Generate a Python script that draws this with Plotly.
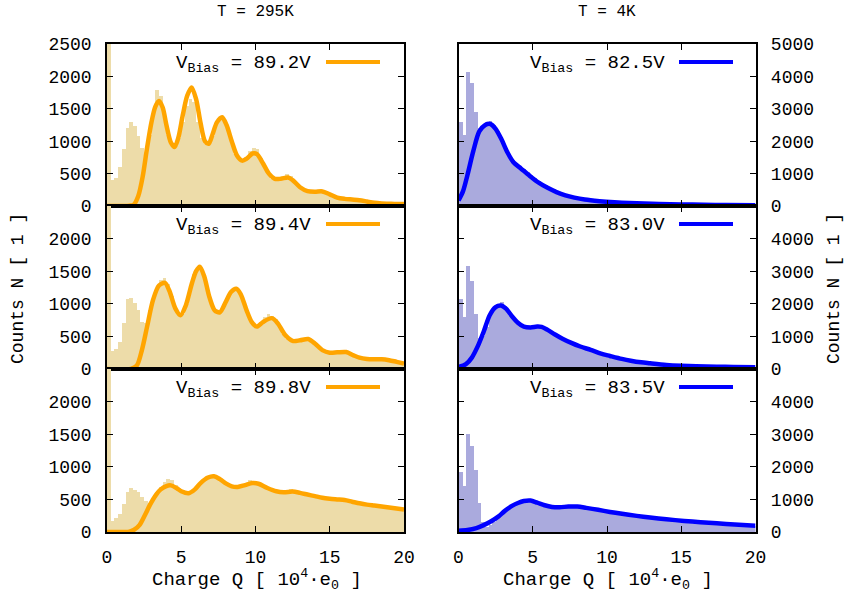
import plotly.graph_objects as go

W, H = 844, 592

# ---------------- data ----------------
bin_width = 0.25
q_bins = [bin_width / 2 + bin_width * i for i in range(80)]  # bin centres, Charge Q [1e4 e0]

# T = 295K histograms
n_hist_892 = [3000, 400, 430, 600, 880, 1200, 1290, 1240, 1080, 900,
              800, 1100, 1450, 1790, 1700, 1400, 1100, 930, 920, 1050,
              1300, 1550, 1650, 1600, 1300, 1050, 950, 950, 1080, 1280,
              1350, 1340, 1200, 980, 800, 720, 700, 760, 850, 900,
              880, 740, 600, 480, 420, 420, 440, 470, 490, 470,
              400, 320, 270, 240, 230, 230, 225, 220, 210, 180,
              150, 130, 120, 110, 105, 100, 95, 90, 80, 70,
              62, 55, 50, 45, 42, 40, 36, 34, 32, 30]
n_hist_894 = [3000, 270, 300, 420, 700, 1080, 1090, 1020, 900, 720,
              700, 900, 1100, 1250, 1360, 1390, 1300, 1120, 920, 830,
              850, 1000, 1250, 1450, 1540, 1500, 1300, 1100, 950, 870,
              880, 980, 1120, 1200, 1230, 1180, 1050, 900, 760, 680,
              670, 720, 800, 840, 820, 760, 650, 540, 460, 430,
              430, 450, 470, 470, 460, 420, 360, 300, 260, 250,
              250, 260, 270, 265, 255, 230, 200, 180, 165, 155,
              150, 150, 150, 150, 145, 135, 120, 110, 100, 90]
n_hist_898 = [3000, 170, 210, 280, 430, 620, 670, 650, 610, 540,
              470, 440, 520, 610, 690, 760, 810, 790, 720, 670,
              640, 610, 600, 640, 700, 760, 810, 840, 850, 840,
              800, 750, 710, 690, 690, 700, 720, 750, 790, 770,
              740, 710, 680, 660, 640, 620, 615, 610, 640, 660,
              650, 620, 600, 580, 560, 550, 540, 530, 520, 510,
              520, 520, 500, 490, 480, 460, 450, 440, 430, 420,
              410, 400, 395, 390, 385, 375, 370, 360, 350, 340]

# T = 4K histograms
n_hist_825 = [2600, 2200, 4150, 3800, 2900, 2400, 2450, 2580, 2620, 2500,
              2300, 2050, 1850, 1600, 1420, 1300, 1220, 1130, 1040, 950,
              870, 780, 700, 640, 570, 510, 460, 410, 370, 330,
              300, 270, 245, 225, 205, 190, 175, 162, 150, 140,
              130, 122, 115, 108, 100, 95, 90, 85, 80, 76,
              72, 68, 65, 62, 59, 56, 54, 52, 50, 48,
              46, 44, 42, 40, 38, 37, 36, 35, 34, 33,
              32, 31, 30, 29, 28, 27, 26, 25, 24, 23]
n_hist_830 = [2150, 1600, 3150, 2700, 1700, 950, 1000, 1300, 1650, 1880,
              2000, 2050, 1920, 1750, 1600, 1450, 1350, 1300, 1290, 1300,
              1310, 1300, 1270, 1220, 1150, 1080, 1020, 960, 900, 850,
              800, 760, 720, 680, 640, 600, 560, 520, 480, 445,
              410, 380, 350, 320, 295, 270, 250, 230, 210, 195,
              180, 165, 152, 140, 130, 120, 112, 105, 100, 95,
              90, 86, 82, 78, 75, 72, 70, 68, 66, 64,
              62, 60, 58, 56, 55, 54, 53, 52, 51, 50]
n_hist_835 = [1850, 1400, 3000, 2650, 1900, 900, 300, 150, 200, 300,
              420, 560, 680, 780, 850, 900, 940, 960, 970, 960,
              930, 880, 830, 800, 780, 760, 760, 770, 780, 790,
              790, 780, 770, 750, 730, 710, 690, 670, 650, 630,
              610, 590, 575, 560, 545, 530, 515, 500, 485, 470,
              455, 440, 430, 418, 406, 395, 383, 372, 360, 350,
              340, 330, 320, 310, 302, 294, 286, 278, 270, 262,
              255, 248, 241, 234, 227, 220, 214, 208, 202, 196]

# fit curves (charge, counts)
fit_q_892 = [0, 1.5, 1.8, 2.1, 2.4, 2.7, 3.0, 3.25, 3.5, 3.75, 4.0, 4.3, 4.55, 4.8, 5.1, 5.4, 5.7, 6.0,
             6.3, 6.6, 6.85, 7.1, 7.4, 7.75, 8.05, 8.4, 8.75, 9.1, 9.4, 9.8, 10.1, 10.5, 10.9, 11.3,
             11.7, 12.2, 12.5, 13.0, 13.5, 14.0, 14.5, 15.0, 15.5, 16.0, 16.5, 17.0, 17.5, 18.0,
             18.5, 19.0, 19.5, 20.0]
fit_n_892 = [0, 5, 20, 150, 450, 900, 1300, 1530, 1620, 1520, 1250, 980, 910, 1050, 1400, 1700, 1830, 1650,
             1280, 1000, 960, 1100, 1290, 1370, 1250, 1000, 780, 700, 730, 810, 800, 660, 500, 420,
             420, 440, 400, 290, 230, 220, 225, 180, 130, 110, 100, 90, 70, 50,
             40, 35, 30, 30]
fit_q_894 = [0, 1.6, 2.0, 2.35, 2.7, 3.1, 3.5, 3.9, 4.2, 4.6, 4.95, 5.3, 5.7, 6.0, 6.25, 6.55, 6.9, 7.25,
             7.6, 8.0, 8.35, 8.7, 9.0, 9.4, 9.75, 10.1, 10.5, 11.1, 11.5, 12.0, 12.5, 13.0, 13.55,
             14.0, 14.5, 15.0, 15.5, 16.1, 16.6, 17.0, 17.5, 18.0, 18.5, 19.0, 19.5, 20.0]
fit_n_894 = [0, 2, 50, 290, 650, 1060, 1280, 1320, 1200, 930, 825, 970, 1300, 1500, 1570, 1420, 1100, 900,
             870, 1030, 1180, 1230, 1150, 900, 720, 650, 720, 780, 700, 520, 430, 440, 460,
             390, 290, 250, 255, 260, 210, 175, 155, 150, 150, 135, 110, 85]
fit_q_898 = [0, 1.5, 1.8, 2.2, 2.6, 2.9, 3.3, 3.6, 4.0, 4.3, 4.7, 5.0, 5.5, 5.9, 6.3, 6.8, 7.2, 7.6,
             8.0, 8.4, 8.8, 9.3, 9.8, 10.2, 10.8, 11.4, 11.9, 12.5, 13.0, 13.5, 14.0, 14.5, 15.0,
             15.5, 16.0, 16.5, 17.0, 17.5, 18.0, 18.5, 19.0, 19.5, 20.0]
fit_n_898 = [0, 5, 30, 110, 280, 420, 570, 650, 705, 715, 670, 625, 595, 650, 750, 835, 855, 810,
             745, 700, 690, 720, 750, 740, 675, 625, 610, 620, 600, 575, 550, 525, 510,
             500, 490, 465, 440, 420, 405, 390, 375, 360, 345]
fit_q_825 = [0, 0.3, 0.6, 1.0, 1.4, 1.8, 2.15, 2.5, 2.9, 3.3, 3.7, 4.2, 4.8, 5.4, 6.0, 6.6, 7.2, 7.8,
             8.5, 9.5, 10.5, 11.5, 12.5, 13.5, 15.0, 16.5, 18.0, 20.0]
fit_n_825 = [170, 450, 950, 1700, 2300, 2500, 2530, 2380, 2050, 1650, 1350, 1160, 930, 720, 560, 430, 330, 260,
             200, 150, 115, 90, 75, 62, 50, 38, 30, 22]
fit_q_830 = [0, 0.5, 0.9, 1.3, 1.7, 2.1, 2.5, 2.85, 3.2, 3.6, 4.0, 4.4, 4.85, 5.3, 5.6, 6.0, 6.5, 7.0,
             7.6, 8.2, 8.9, 9.6, 10.2, 11.0, 11.6, 12.3, 12.9, 14.0, 15.0, 16.0, 17.4, 18.5, 20.0]
fit_n_830 = [60, 150, 350, 700, 1150, 1650, 1900, 1950, 1850, 1620, 1420, 1300, 1275, 1300, 1290, 1200, 1060, 930,
             800, 690, 585, 470, 400, 310, 255, 205, 175, 125, 100, 85, 72, 60, 50]
fit_q_835 = [0, 0.6, 1.2, 1.7, 2.2, 2.7, 3.1, 3.6, 4.0, 4.4, 4.85, 5.3, 5.8, 6.3, 6.8, 7.4, 8.0, 8.6,
             9.4, 10.2, 10.9, 12.0, 12.9, 14.0, 15.2, 16.3, 17.4, 18.6, 20.0]
fit_n_835 = [40, 60, 120, 210, 330, 480, 640, 800, 890, 950, 965, 900, 820, 770, 760, 780, 780, 740,
             680, 615, 565, 495, 445, 390, 340, 300, 265, 230, 195]

bias_labels = ["89.2V", "89.4V", "89.8V", "82.5V", "83.0V", "83.5V"]
col_titles = ["T = 295K", "T = 4K"]
x_ticks = [0, 5, 10, 15, 20]
y_ticks_left_top = [0, 500, 1000, 1500, 2000, 2500]
y_ticks_left = [0, 500, 1000, 1500, 2000]
y_ticks_right_top = [0, 1000, 2000, 3000, 4000, 5000]
y_ticks_right = [0, 1000, 2000, 3000, 4000]

# ---------------- styling / layout ----------------
FONT = "Liberation Mono"
hist_colors = ["#EDDCA9", "#AAAADD"]
line_colors = ["#FFA500", "#0000FF"]


def px(x):
    return x / W


def py(y):
    return 1 - y / H


col_px = [(107, 404), (458.5, 755.5)]
row_px = [(44, 206), (206, 369), (369, 532)]

panels = [
    # (row, col, hist, fit_q, fit_n, label, yticks)
    (0, 0, n_hist_892, fit_q_892, fit_n_892, bias_labels[0], y_ticks_left_top),
    (0, 1, n_hist_825, fit_q_825, fit_n_825, bias_labels[3], y_ticks_right_top),
    (1, 0, n_hist_894, fit_q_894, fit_n_894, bias_labels[1], y_ticks_left),
    (1, 1, n_hist_830, fit_q_830, fit_n_830, bias_labels[4], y_ticks_right),
    (2, 0, n_hist_898, fit_q_898, fit_n_898, bias_labels[2], y_ticks_left),
    (2, 1, n_hist_835, fit_q_835, fit_n_835, bias_labels[5], y_ticks_right),
]

fig = go.Figure()
layout = dict(
    width=W, height=H,
    margin=dict(l=0, r=0, t=0, b=0, autoexpand=False),
    paper_bgcolor="white", plot_bgcolor="white",
    showlegend=False, bargap=0,
    font=dict(family=FONT, size=18, color="black"),
)
annotations = []
shapes = []

for k, (r, c, hist, fq, fn, lab, yt) in enumerate(panels, start=1):
    xa = "x" if k == 1 else f"x{k}"
    ya = "y" if k == 1 else f"y{k}"
    fig.add_trace(go.Bar(x=q_bins, y=hist, width=bin_width, xaxis=xa, yaxis=ya,
                         marker=dict(color=hist_colors[c], line=dict(width=0))))
    fig.add_trace(go.Scatter(x=fq, y=fn, xaxis=xa, yaxis=ya, mode="lines",
                             line=dict(color=line_colors[c], width=4.5, shape="spline", smoothing=0.8)))
    x0, x1 = col_px[c]
    y0, y1 = row_px[r]
    layout["xaxis" if k == 1 else f"xaxis{k}"] = dict(
        domain=[px(x0), px(x1)], anchor=ya, range=[0, 20], automargin=False,
        tickvals=x_ticks, ticktext=[str(v) for v in x_ticks],
        showticklabels=(r == 2), ticks="inside", ticklen=6, tickwidth=1, tickcolor="black",
        showline=True, linecolor="black", linewidth=1.5, mirror="ticks",
        showgrid=False, zeroline=False, ticklabelstandoff=8,
        tickfont=dict(family=FONT, size=18),
    )
    layout["yaxis" if k == 1 else f"yaxis{k}"] = dict(
        domain=[py(y1), py(y0)], anchor=xa, range=[0, 2500 if c == 0 else 5000], automargin=False,
        tickvals=yt, ticktext=[str(v) for v in yt],
        side="left" if c == 0 else "right",
        ticks="inside", ticklen=6, tickwidth=1, tickcolor="black",
        showline=True, linecolor="black", linewidth=1.5, mirror="ticks",
        showgrid=False, zeroline=False, ticklabelstandoff=10,
        tickfont=dict(family=FONT, size=18),
    )
    # key (gnuplot style: text then line sample)
    ky = y0 + 18
    tx = 313 if c == 0 else 667
    annotations.append(dict(text=f"V<sub>Bias</sub> = {lab}", x=px(tx), y=py(ky + 2),
                            xref="paper", yref="paper", xanchor="right", yanchor="middle",
                            showarrow=False, font=dict(family=FONT, size=19)))
    lx0 = 326 if c == 0 else 679
    shapes.append(dict(type="line", xref="paper", yref="paper",
                       x0=px(lx0), x1=px(lx0 + 54), y0=py(ky), y1=py(ky),
                       line=dict(color=line_colors[c], width=4)))

# column titles
for c, t in enumerate(col_titles):
    cx = (col_px[c][0] + col_px[c][1]) / 2
    annotations.append(dict(text=t, x=px(cx), y=py(12), xref="paper", yref="paper",
                            xanchor="center", yanchor="middle", showarrow=False,
                            font=dict(family=FONT, size=16)))
    annotations.append(dict(text="Charge Q [ 10<sup>4</sup>·e<sub>0</sub> ]", x=px(cx + 1), y=py(579),
                            xref="paper", yref="paper", xanchor="center", yanchor="middle",
                            showarrow=False, font=dict(family=FONT, size=19)))

# y axis titles
annotations.append(dict(text="Counts N [ 1 ]", x=px(18), y=py(289), xref="paper", yref="paper",
                        xanchor="center", yanchor="middle", textangle=-90, showarrow=False,
                        font=dict(family=FONT, size=18)))
annotations.append(dict(text="Counts N [ 1 ]", x=px(834), y=py(289), xref="paper", yref="paper",
                        xanchor="center", yanchor="middle", textangle=-90, showarrow=False,
                        font=dict(family=FONT, size=18)))

layout["annotations"] = annotations
layout["shapes"] = shapes
fig.update_layout(**layout)
fig.write_html("out.html")
